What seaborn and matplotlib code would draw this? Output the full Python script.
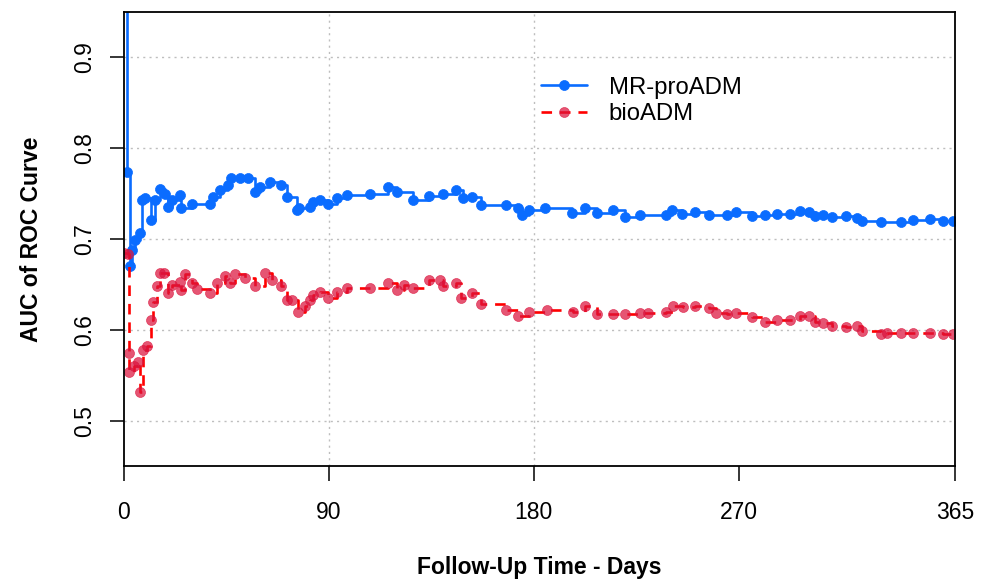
import matplotlib
matplotlib.use("Agg")
import matplotlib.pyplot as plt
import seaborn as sns
import pandas as pd

# ---- data ----
series_names = ["MR-proADM", "bioADM"]

mr_days = [0, 1.45, 2.6, 3.4, 4.8, 7, 8, 9.2, 12, 13.6, 16, 18, 19.3, 21, 24.6, 25,
           30, 37.8, 39, 42, 45.7, 47, 51, 54.5, 57.5, 59.7, 64, 69, 71.4, 75.8, 77,
           81.7, 83, 86, 89.6, 93.4, 98, 108, 116, 119.7, 127, 134, 140, 146, 149,
           153, 157, 168, 173, 175, 178, 185, 196.6, 202.5, 207.6, 215, 220, 226.6,
           238, 240.5, 245, 250.8, 257, 264.7, 269, 276, 281.5, 286.6, 292.5, 297,
           301, 303.5, 307, 311, 317, 322, 324, 332.7, 341.5, 346.5, 354, 359.7, 364]
mr_auc = [0.96, 0.774, 0.670, 0.688, 0.699, 0.707, 0.743, 0.745, 0.721, 0.743, 0.755,
          0.750, 0.735, 0.743, 0.748, 0.734, 0.738, 0.739, 0.746, 0.754, 0.759, 0.767,
          0.767, 0.767, 0.752, 0.757, 0.763, 0.759, 0.746, 0.732, 0.734, 0.735, 0.741,
          0.743, 0.739, 0.745, 0.748, 0.750, 0.757, 0.752, 0.743, 0.747, 0.750, 0.754,
          0.745, 0.746, 0.737, 0.737, 0.734, 0.726, 0.732, 0.734, 0.729, 0.734, 0.729,
          0.732, 0.724, 0.726, 0.726, 0.732, 0.728, 0.730, 0.726, 0.726, 0.730, 0.725,
          0.726, 0.727, 0.728, 0.731, 0.730, 0.725, 0.726, 0.724, 0.725, 0.723, 0.720,
          0.719, 0.719, 0.721, 0.722, 0.720, 0.720]

bio_days = [0, 1.7, 2.0, 2.3, 4.5, 6.3, 7, 8.5, 10.2, 12, 12.9, 14.3, 16, 17.6, 19.5,
            21, 24.6, 25, 27, 29.7, 32, 37.8, 40.7, 44.4, 46.5, 48.7, 53, 57.5, 62, 65,
            69, 71.4, 74, 76.5, 79.5, 81.7, 83, 86, 89.6, 93.4, 98, 108, 116, 119.7,
            123, 127, 134, 139, 140, 146, 148, 153, 157, 168, 173, 178, 185.6, 197,
            202.5, 207.6, 215, 220, 226.6, 230, 238, 241, 245.6, 250.8, 257, 260,
            264.7, 269, 276, 281.5, 286.6, 292.5, 297, 301, 303.5, 307, 311, 317, 322,
            324, 332.7, 335, 341.5, 346.5, 354, 359.7, 364]
bio_auc = [0.685, 0.684, 0.575, 0.554, 0.560, 0.564, 0.532, 0.578, 0.582, 0.611, 0.631,
           0.648, 0.663, 0.663, 0.641, 0.649, 0.653, 0.644, 0.662, 0.652, 0.645, 0.641,
           0.651, 0.659, 0.651, 0.662, 0.657, 0.648, 0.663, 0.655, 0.648, 0.633, 0.633,
           0.620, 0.626, 0.633, 0.638, 0.642, 0.635, 0.642, 0.646, 0.646, 0.651, 0.644,
           0.649, 0.646, 0.655, 0.655, 0.648, 0.652, 0.635, 0.640, 0.628, 0.622, 0.615,
           0.620, 0.622, 0.620, 0.626, 0.617, 0.617, 0.617, 0.619, 0.619, 0.620, 0.626,
           0.625, 0.626, 0.624, 0.619, 0.617, 0.618, 0.614, 0.609, 0.611, 0.611, 0.615,
           0.615, 0.609, 0.607, 0.604, 0.603, 0.604, 0.599, 0.595, 0.597, 0.597, 0.597,
           0.596, 0.595, 0.595]

x_ticks = [0, 90, 180, 270, 365]
y_ticks = [0.5, 0.6, 0.7, 0.8, 0.9]
v_grid = [90, 180]

mr_df = pd.DataFrame({"day": mr_days, "auc": mr_auc})
bio_df = pd.DataFrame({"day": bio_days, "auc": bio_auc})

# ---- style ----
sns.set_style("white")
plt.rcParams["font.family"] = ["Liberation Sans", "DejaVu Sans"]
plt.rcParams["text.color"] = "black"
plt.rcParams["axes.labelcolor"] = "black"
plt.rcParams["xtick.color"] = "black"
plt.rcParams["ytick.color"] = "black"

BLUE = "#0A6CFF"
RED_LINE = "#FF0000"
RED_MK = (0.86, 0.08, 0.24, 0.72)

fig = plt.figure(figsize=(9.87, 5.82), dpi=100)
ax = fig.add_axes([124 / 987, 1 - 466 / 582, (955 - 124) / 987, (466 - 12) / 582])

for y in y_ticks:
    ax.axhline(y, color="#BEBEBE", lw=1.0, ls=(0, (1.5, 3)), zorder=0)
for x in v_grid:
    ax.axvline(x, color="#BEBEBE", lw=1.0, ls=(0, (1.5, 3)), zorder=0)

sns.lineplot(data=mr_df, x="day", y="auc", ax=ax, estimator=None, sort=False,
             drawstyle="steps-post", color=BLUE, lw=1.9, marker="o", markersize=7.2,
             markerfacecolor=BLUE, markeredgecolor=BLUE, markeredgewidth=0.5,
             label=series_names[0])
sns.lineplot(data=bio_df, x="day", y="auc", ax=ax, estimator=None, sort=False,
             drawstyle="steps-post", color=RED_LINE, lw=1.9, linestyle=(0, (4, 3)),
             marker="o", markersize=7.2, markerfacecolor=RED_MK, markeredgecolor=RED_MK,
             markeredgewidth=0.5, label=series_names[1])

ax.set_xlim(0, 365)
ax.set_ylim(0.45, 0.95)
ax.set_xticks(x_ticks)
ax.set_xticklabels([str(t) for t in x_ticks])
ax.set_yticks(y_ticks)
ax.set_yticklabels([f"{t:.1f}" for t in y_ticks], rotation=90, va="center")

for s in ax.spines.values():
    s.set_visible(True)
    s.set_color("black")
    s.set_linewidth(1.3)

ax.tick_params(axis="x", direction="out", length=11, width=1.1, pad=14,
               labelsize=16.5, bottom=True, colors="black")
ax.tick_params(axis="y", direction="out", length=10, width=1.1, pad=10,
               labelsize=16.5, left=True, colors="black")

ax.set_xlabel("Follow-Up Time - Days", fontsize=16.5, fontweight="bold", labelpad=23)
ax.set_ylabel("AUC of ROC Curve", fontsize=16.5, fontweight="bold", labelpad=22)

leg = ax.legend(loc="upper left", bbox_to_anchor=(519 / 987, 1 - 55 / 582),
                bbox_transform=fig.transFigure, frameon=False, fontsize=17.2,
                handlelength=1.95, handletextpad=0.9, labelspacing=0.2)

fig.savefig("out.png", dpi=100)
